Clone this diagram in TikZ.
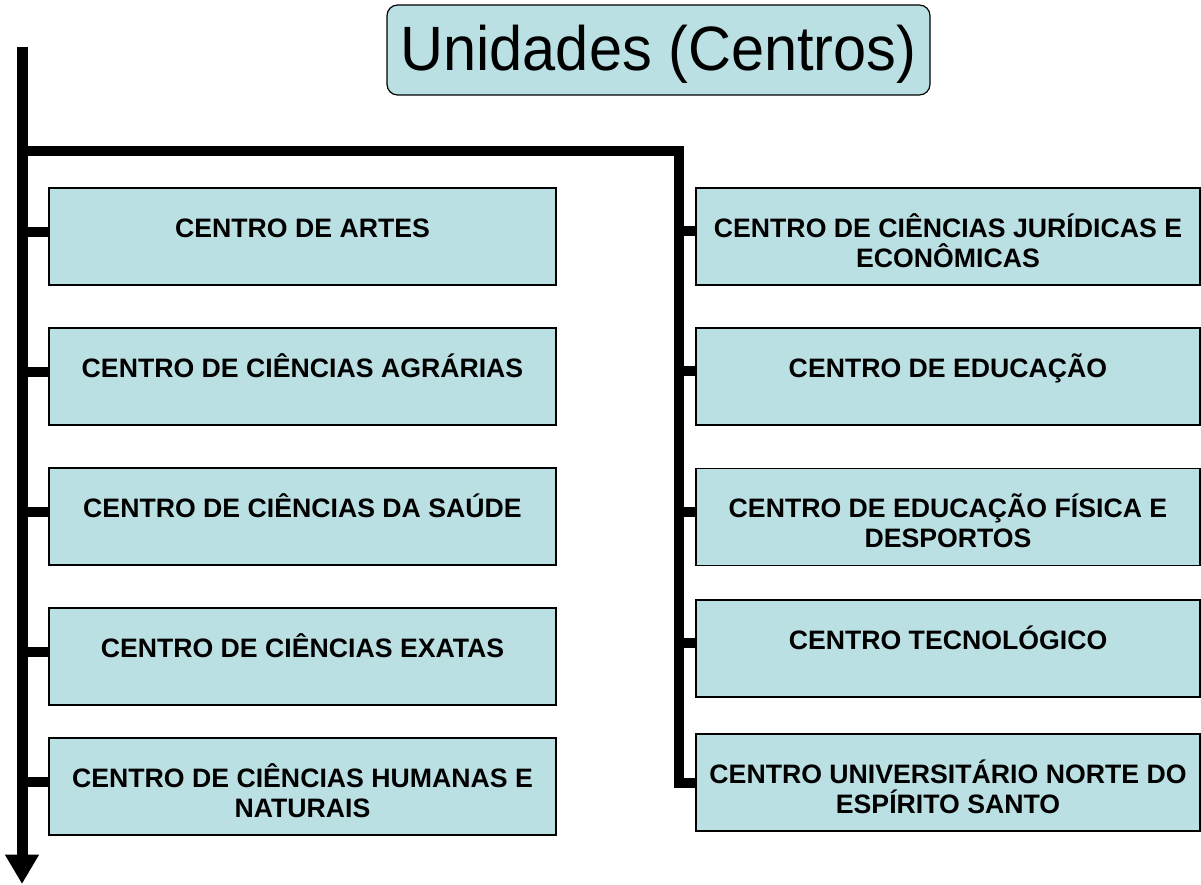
\documentclass[tikz,border=0pt]{standalone}
\usepackage{fontspec}
\setmainfont{Liberation Sans}
\newfontfamily\titulofont[FakeStretch=0.95]{Liberation Sans}
\usetikzlibrary{arrows.meta}
\definecolor{caixa}{RGB}{187,224,227}
\newcommand{\altura}{\rule{0pt}{24pt}}

\begin{document}
\begin{tikzpicture}[x=0.75pt, y=-0.75pt,
    centro/.style={
        draw,
        fill=caixa,
        line width=0.9pt,
        inner sep=0pt,
        minimum width=380.25pt,
        minimum height=72.75pt,
        align=center,
        font=\fontsize{20}{22.5}\selectfont\bfseries
    },
    centrodir/.style={
        centro,
        minimum width=378pt
    },
    linha/.style={text height=14pt, text depth=12.4pt},
    titulo/.style={
        draw,
        fill=caixa,
        line width=0.9pt,
        rounded corners=8pt,
        inner sep=0pt,
        minimum width=407.25pt,
        minimum height=67.5pt,
        text height=40pt,
        text depth=8.6pt,
        font=\titulofont\fontsize{47}{56}\selectfont
    },
    haste/.style={line width=7.5pt, line join=miter}
]

\useasboundingbox (0,0) rectangle (1201,884);

%%%%%%%%%%%%%%%%%%%%%%%%
% Titulo
%%%%%%%%%%%%%%%%%%%%%%%%

\node[titulo] (tit) at (658.5,50) {Unidades (Centros)};

%%%%%%%%%%%%%%%%%%%%%%%%
% Coluna esquerda
%%%%%%%%%%%%%%%%%%%%%%%%

\node[centro, linha] (e1) at (302.5,236.5) {CENTRO DE ARTES};
\node[centro, linha] (e2) at (302.5,376.5) {CENTRO DE CIÊNCIAS AGRÁRIAS};
\node[centro, linha] (e3) at (302.5,516.5) {CENTRO DE CIÊNCIAS DA SAÚDE};
\node[centro, linha] (e4) at (302.5,656.5) {CENTRO DE CIÊNCIAS EXATAS};
\node[centro] (e5) at (302.5,786.5) {\altura CENTRO DE CIÊNCIAS HUMANAS E\\NATURAIS};

%%%%%%%%%%%%%%%%%%%%%%%%
% Coluna direita
%%%%%%%%%%%%%%%%%%%%%%%%

\node[centrodir] (d1) at (948,236.5) {\altura CENTRO DE CIÊNCIAS JURÍDICAS E\\ECONÔMICAS};
\node[centrodir, linha] (d2) at (948,376.5) {CENTRO DE EDUCAÇÃO};
\node[centrodir] (d3) at (948,517) {\altura CENTRO DE EDUCAÇÃO FÍSICA E\\DESPORTOS};
\node[centrodir, linha] (d4) at (948,648.5) {CENTRO TECNOLÓGICO};
\node[centrodir] (d5) at (948,782.5) {\altura CENTRO UNIVERSITÁRIO NORTE DO\\ESPÍRITO SANTO};

%%%%%%%%%%%%%%%%%%%%%%%%
% Linhas
%%%%%%%%%%%%%%%%%%%%%%%%

% --- eixo principal ---
\coordinate (topo) at (22,47);
\coordinate (fim) at (22,884);
\coordinate (canto) at (679,151);

\draw[line width=8.25pt, -{Triangle[width=24pt,length=22pt]}] (topo) -- (fim);

% --- ramo da direita ---
\draw[haste] (topo |- canto) -- (canto) -- (canto |- d5.west) -- (d5.west);

% --- ligacoes ---
\foreach \i in {1,...,5}
    \draw[haste] ([yshift=3.5pt]e\i.west) -- ([yshift=3.5pt]e\i.west -| topo);
\foreach \i in {1,...,4}
    \draw[haste] ([yshift=4pt]d\i.west) -- ([yshift=4pt]d\i.west -| canto);

\end{tikzpicture}
\end{document}
